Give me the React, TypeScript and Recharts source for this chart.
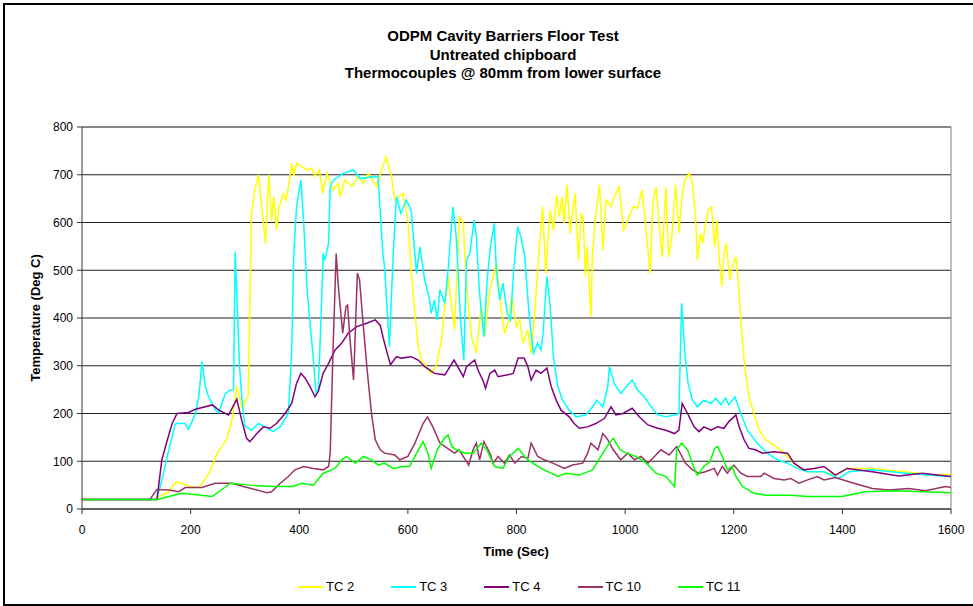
import React from "react";
import { LineChart, Line, XAxis, YAxis, CartesianGrid, ReferenceLine, Label } from "recharts";

const xTicks = [0, 200, 400, 600, 800, 1000, 1200, 1400, 1600];
const yTicks = [0, 100, 200, 300, 400, 500, 600, 700, 800];
const titleLines = ["ODPM Cavity Barriers Floor Test", "Untreated chipboard", "Thermocouples @ 80mm from lower surface"];
const seriesNames = ["TC 2", "TC 3", "TC 4", "TC 10", "TC 11"];
const seriesColors = ["#FFFF00", "#00FFFF", "#800080", "#993366", "#00FF00"];

// [time (s), temperature (deg C)]
const TC2: [number, number][] = [
  [0,20],[135,20],[145,28],[160,36],[171,55],[178,56],[198,47],[216,45],[234,75],[249,117],[266,145],[276,186],[285,256],[296,207],[300,225],[306,235],[312,619],[318,668],[325,700],[329,654],[334,598],[338,556],[341,640],[344,700],[349,605],[353,654],[358,584],[363,633],[371,661],[376,647],[382,689],[386,724],[390,696],[395,724],[404,717],[414,710],[423,714],[429,696],[437,710],[443,661],[451,703],[457,685],[463,668],[472,682],[475,654],[484,689],[497,675],[509,696],[518,682],[527,703],[543,675],[549,700],[560,738],[570,696],[576,647],[591,661],[600,605],[606,500],[613,410],[619,340],[625,312],[643,284],[652,298],[662,354],[668,424],[674,487],[686,375],[695,612],[702,598],[708,466],[717,361],[726,326],[735,424],[741,361],[751,459],[763,514],[772,417],[778,368],[786,396],[791,445],[800,382],[806,396],[812,347],[821,375],[827,326],[833,403],[842,549],[848,633],[854,493],[862,626],[868,584],[874,658],[879,612],[884,654],[888,598],[893,679],[899,577],[903,619],[908,661],[914,521],[919,619],[923,605],[927,487],[930,549],[937,403],[940,535],[945,605],[953,679],[959,542],[965,647],[974,633],[980,654],[989,675],[997,584],[1005,605],[1015,633],[1023,630],[1031,668],[1037,605],[1046,493],[1051,640],[1057,675],[1068,528],[1075,675],[1080,528],[1086,571],[1093,679],[1099,577],[1104,647],[1110,689],[1118,703],[1124,682],[1130,605],[1133,521],[1139,577],[1143,556],[1147,591],[1153,626],[1159,633],[1165,549],[1169,605],[1173,528],[1178,466],[1182,535],[1186,556],[1193,480],[1197,507],[1204,528],[1208,480],[1213,396],[1220,298],[1228,235],[1237,200],[1247,165],[1259,145],[1274,134],[1293,117],[1305,103],[1317,89],[1336,78],[1366,78],[1387,71],[1409,85],[1455,85],[1516,78],[1565,71],[1600,73]
];

const TC3: [number, number][] = [
  [0,20],[138,20],[150,75],[160,124],[172,179],[190,179],[196,167],[209,200],[215,235],[221,309],[227,256],[233,235],[246,207],[252,202],[264,242],[273,249],[279,250],[282,539],[286,420],[290,300],[295,223],[300,174],[312,165],[325,179],[337,172],[352,162],[365,172],[380,200],[386,326],[390,535],[395,633],[403,689],[408,605],[414,465],[425,326],[431,242],[435,249],[440,396],[444,535],[447,521],[454,556],[457,675],[463,689],[481,703],[500,710],[512,692],[536,696],[545,696],[554,535],[557,507],[566,340],[573,535],[579,654],[587,619],[597,647],[606,626],[616,493],[622,549],[631,480],[640,438],[643,410],[649,438],[654,396],[659,459],[668,431],[674,500],[683,633],[689,571],[697,396],[703,312],[708,521],[714,535],[722,605],[726,571],[732,452],[740,361],[746,480],[752,549],[759,598],[763,500],[769,438],[775,473],[783,410],[789,396],[795,500],[802,591],[808,571],[815,530],[823,410],[831,326],[839,347],[845,333],[849,368],[856,487],[862,424],[868,319],[876,256],[885,228],[897,207],[910,193],[928,197],[940,214],[948,228],[959,214],[968,256],[971,298],[980,263],[992,242],[1002,256],[1013,270],[1023,249],[1035,235],[1048,214],[1060,197],[1075,193],[1091,197],[1099,200],[1104,431],[1110,326],[1116,263],[1124,228],[1133,214],[1145,228],[1158,221],[1167,232],[1176,218],[1185,232],[1191,218],[1202,235],[1213,200],[1225,165],[1243,138],[1262,117],[1280,103],[1299,96],[1317,85],[1336,78],[1366,78],[1393,64],[1412,78],[1455,82],[1516,75],[1560,71],[1600,68]
];

const TC4: [number, number][] = [
  [0,20],[138,20],[147,103],[157,144],[166,179],[175,200],[196,202],[209,209],[240,218],[252,207],[270,197],[285,230],[294,186],[303,148],[309,141],[322,158],[334,172],[346,169],[358,179],[374,200],[386,221],[395,263],[403,284],[411,274],[420,256],[429,235],[435,246],[444,284],[454,305],[466,333],[478,347],[490,368],[506,382],[524,389],[540,396],[549,385],[554,361],[562,326],[568,302],[579,319],[588,316],[606,319],[619,312],[631,298],[649,284],[668,281],[685,312],[702,277],[708,298],[723,312],[729,291],[738,270],[743,253],[751,284],[760,291],[766,277],[784,281],[794,284],[803,316],[814,316],[821,298],[827,270],[836,291],[845,284],[856,295],[864,256],[873,228],[882,207],[897,193],[906,179],[916,169],[931,172],[946,179],[962,190],[974,214],[983,197],[996,200],[1013,211],[1026,193],[1042,176],[1060,169],[1075,165],[1091,158],[1099,165],[1105,221],[1115,200],[1127,172],[1136,162],[1145,172],[1158,165],[1170,172],[1182,169],[1191,183],[1204,197],[1210,172],[1219,145],[1228,127],[1240,124],[1253,117],[1274,120],[1299,117],[1311,96],[1329,82],[1348,85],[1366,89],[1387,71],[1409,85],[1455,78],[1504,69],[1547,75],[1600,68]
];

const TC10: [number, number][] = [
  [0,20],[125,20],[138,41],[160,40],[178,36],[190,45],[221,45],[245,54],[276,54],[297,47],[322,40],[340,34],[349,36],[365,54],[380,68],[392,82],[408,89],[426,85],[444,82],[454,89],[457,117],[462,326],[468,535],[472,466],[480,368],[486,424],[489,427],[493,361],[500,270],[504,396],[507,494],[511,480],[517,396],[525,291],[533,200],[540,145],[549,124],[557,117],[576,113],[585,103],[600,110],[613,138],[628,179],[636,193],[646,172],[659,138],[668,131],[677,124],[686,117],[694,124],[706,103],[712,92],[720,124],[726,138],[732,103],[740,141],[751,117],[757,96],[766,110],[778,96],[787,113],[797,96],[809,110],[821,106],[827,138],[839,110],[851,103],[867,96],[888,85],[903,92],[922,96],[931,117],[937,138],[950,124],[959,158],[968,145],[978,124],[992,103],[1005,117],[1017,103],[1029,110],[1042,96],[1054,110],[1066,124],[1081,113],[1095,131],[1111,96],[1124,82],[1136,75],[1148,78],[1164,85],[1170,71],[1179,89],[1188,75],[1200,92],[1213,75],[1225,68],[1250,68],[1256,75],[1274,64],[1293,61],[1305,64],[1320,54],[1336,61],[1354,68],[1366,61],[1387,66],[1412,57],[1455,43],[1485,40],[1522,43],[1553,38],[1590,47],[1600,45]
];

const TC11: [number, number][] = [
  [0,20],[138,20],[184,33],[240,26],[273,54],[309,50],[352,47],[389,47],[404,54],[426,50],[444,75],[460,82],[469,89],[478,103],[487,110],[503,96],[518,110],[533,103],[546,92],[557,96],[573,85],[591,89],[603,89],[616,117],[628,141],[637,117],[643,85],[654,124],[667,148],[674,155],[681,131],[689,124],[705,117],[720,117],[735,138],[745,124],[760,89],[775,85],[787,110],[803,127],[815,110],[821,103],[845,85],[864,75],[876,68],[891,75],[916,71],[940,82],[959,117],[971,138],[978,148],[991,124],[1002,117],[1020,110],[1039,96],[1057,75],[1075,68],[1091,47],[1095,124],[1104,138],[1115,124],[1127,85],[1133,71],[1145,89],[1156,99],[1165,127],[1170,131],[1179,110],[1188,82],[1197,89],[1204,68],[1216,47],[1237,33],[1259,29],[1305,29],[1336,26],[1399,26],[1442,36],[1497,38],[1547,36],[1600,34]
];

const allSeries = [TC2, TC3, TC4, TC10, TC11].map((s) => s.map(([t, v]) => ({ t, v })));

const FONT = "'Liberation Sans', Arial, sans-serif";

export default function App() {
  return (
    <div style={{ position: "absolute", left: 0, top: 0, width: 973, height: 606, overflow: "hidden", background: "#fff", fontFamily: FONT }}>
      <div style={{ position: "absolute", left: 3, top: 3, width: 1000, height: 603, border: "2px solid #000", boxSizing: "border-box" }} />
      <div style={{ position: "absolute", left: 203, top: 27, width: 600, textAlign: "center", fontWeight: "bold", fontSize: 15, lineHeight: "18.5px", color: "#000" }}>
        {titleLines.map((l) => (
          <div key={l}>{l}</div>
        ))}
      </div>
      <div style={{ position: "absolute", left: 0, top: 0 }}>
        <LineChart width={973} height={606} margin={{ top: 127, right: 22, bottom: 67, left: 0 }}>
          <CartesianGrid vertical={false} stroke="#222" strokeWidth={1} />
          <XAxis
            type="number"
            dataKey="t"
            domain={[0, 1600]}
            ticks={xTicks}
            interval={0}
            height={30}
            tickSize={5}
            tickMargin={11}
            stroke="#333"
            tick={{ fill: "#000", fontSize: 12, fontFamily: FONT }}
            allowDataOverflow
          >
            <Label
              content={() => (
                <text x={516} y={556} textAnchor="middle" fontWeight="bold" fontSize={13} fontFamily={FONT} fill="#000">
                  Time (Sec)
                </text>
              )}
            />
          </XAxis>
          <YAxis
            type="number"
            domain={[0, 800]}
            ticks={yTicks}
            interval={0}
            width={82}
            tickSize={5}
            tickMargin={4}
            stroke="#333"
            tick={{ fill: "#000", fontSize: 12, fontFamily: FONT }}
          >
            <Label
              content={() => (
                <text x={40} y={318} transform="rotate(-90 40 318)" textAnchor="middle" fontWeight="bold" fontSize={13} fontFamily={FONT} fill="#000">
                  Temperature (Deg C)
                </text>
              )}
            />
          </YAxis>
          <ReferenceLine x={1600} stroke="#808080" strokeWidth={1} />
          <ReferenceLine y={800} stroke="#808080" strokeWidth={1} />
          {allSeries.map((d, i) => (
            <Line
              key={seriesNames[i]}
              data={d}
              dataKey="v"
              name={seriesNames[i]}
              type="linear"
              stroke={seriesColors[i]}
              strokeWidth={1.5}
              dot={false}
              activeDot={false}
              isAnimationActive={false}
            />
          ))}
        </LineChart>
      </div>
      <div style={{ position: "absolute", left: 298, top: 579, display: "flex", alignItems: "center", fontSize: 13, lineHeight: "16px", color: "#000" }}>
        {seriesNames.map((n, i) => (
          <div key={n} style={{ display: "flex", alignItems: "center", marginRight: 37 }}>
            <div style={{ width: 25, height: 2, background: seriesColors[i], marginRight: 3 }} />
            <span>{n}</span>
          </div>
        ))}
      </div>
    </div>
  );
}
